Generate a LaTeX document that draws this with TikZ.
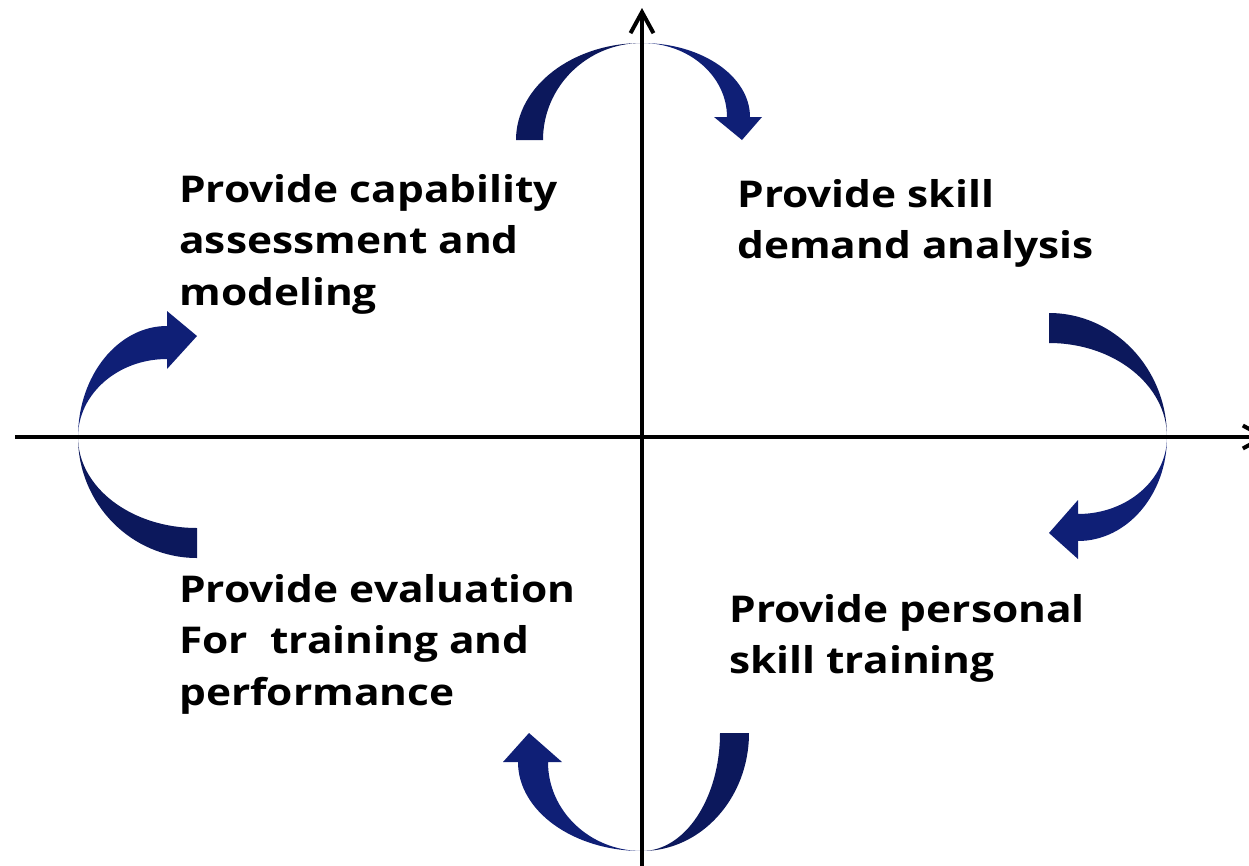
\documentclass[tikz,border=0pt]{standalone}
\usepackage{fontspec}
\setmainfont{Open Sans}[BoldFont={Open Sans Bold}, BoldFeatures={FakeStretch=1.15}]
\usetikzlibrary{arrows.meta}
\definecolor{navyA}{RGB}{12,24,92}
\definecolor{navyB}{RGB}{15,31,118}
\tikzset{
  axisline/.style={line width=0.08cm, -{Straight Barb[length=0.42cm,width=0.46cm]}},
  tailfill/.style={fill=navyA},
  headfill/.style={fill=navyB},
  lbl/.style={anchor=north west, inner sep=0pt, align=left,
    font=\fontsize{21}{29.3}\selectfont\bfseries}
}
% #1 D, #2 Ao, #3 Ai, #4 h, #5 Bo, #6 Bi, #7 Bmin, #8 Bmax, #9 T
\newcommand\swirlshape[9]{%
  \fill[tailfill] (0,0) .. controls ({-0.5523*#2},0) and ({-#2},{#1*0.4477}) .. ({-#2},#1)
     -- ({-#3},#1) .. controls ({-#3},{#1*0.4477}) and ({-0.5523*#3},0) .. (0,0) -- cycle;
  \fill[headfill] (0,0) .. controls ({0.5523*#6},0) and (#6,{#4*0.4477}) .. (#6,#4)
     -- (#7,#4) -- (#9,#1) -- (#8,#4) -- (#5,#4)
     .. controls (#5,{#4*0.4477}) and ({0.5523*#5},0) .. (0,0) -- cycle;
}
\begin{document}
\begin{tikzpicture}[x=0.02cm,y=-0.02cm]
\useasboundingbox (0,0) rectangle (1249,866);
% swirl arrows
\begin{scope}[shift={(642,43)}, x={(0.02cm,0cm)}, y={(0cm,-0.02cm)}]
  \swirlshape{97}{126}{99}{74}{108}{85}{72}{120}{100}
\end{scope}
\begin{scope}[shift={(1167,437)}, x={(0cm,-0.02cm)}, y={(-0.02cm,0cm)}]
  \swirlshape{118}{124}{94}{89}{104}{77}{63}{122}{96}
\end{scope}
\begin{scope}[shift={(642,851)}, x={(-0.02cm,0cm)}, y={(0cm,0.02cm)}]
  \swirlshape{118}{107}{78}{89}{124}{94}{80}{139}{113}
\end{scope}
\begin{scope}[shift={(78,437)}, x={(0cm,0.02cm)}, y={(0.02cm,0cm)}]
  \swirlshape{119}{121}{91}{89}{111}{78}{68}{126}{101}
\end{scope}
% axes
\coordinate (xs) at (15,437);
\coordinate (xe) at (1268,437);
\coordinate (ys) at (642,870);
\coordinate (ye) at (642,8);
\draw[axisline] (xs) -- (xe);
\draw[axisline] (ys) -- (ye);
% labels
\node[lbl] (t1) at (179,174) {Provide capability\\assessment and\\modeling};
\node[lbl] (t2) at (737,179) {Provide skill\\demand analysis};
\node[lbl] (t3) at (729,594) {Provide personal\\skill training};
\node[lbl] (t4) at (179,574) {Provide evaluation\\For~ training and\\performance};
\end{tikzpicture}
\end{document}
